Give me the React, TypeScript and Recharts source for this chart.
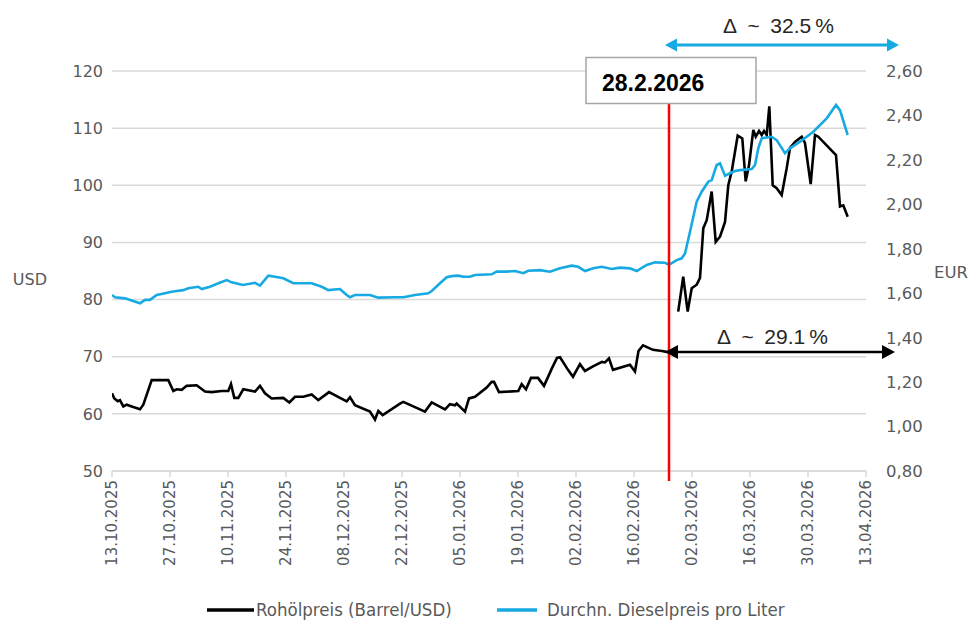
import React from 'react';
import { LineChart, Line, XAxis, YAxis, CartesianGrid, Legend } from 'recharts';

// X axis: days since 13.10.2025
const tickDays = [0, 14, 28, 42, 56, 70, 84, 98, 112, 126, 140, 154, 168, 182];
const tickLabels = [
  '13.10.2025', '27.10.2025', '10.11.2025', '24.11.2025', '08.12.2025', '22.12.2025', '05.01.2026',
  '19.01.2026', '02.02.2026', '16.02.2026', '02.03.2026', '16.03.2026', '30.03.2026', '13.04.2026',
];
const usdTicks = [50, 60, 70, 80, 90, 100, 110, 120];
const eurTicks = [0.8, 1.0, 1.2, 1.4, 1.6, 1.8, 2.0, 2.2, 2.4, 2.6];

const oilDays = [
  0, 0.56, 1.38, 1.93, 2.73, 3.55, 4.76, 6.76, 7.56, 9.58, 13.59, 14.8, 15.62, 16.82, 18.03, 20.44,
  22.45, 24.07, 26.48, 28.07, 28.72, 29.52, 30.49, 31.69, 34.52, 35.72, 36.93, 38.55, 41.35, 42.8,
  44.17, 46.18, 48.2, 49.8, 52.38, 56.65, 57.45, 58.65, 62.27, 63.48, 64.28, 65.34, 69.52, 70.31,
  75.55, 77.17, 80.38, 81.58, 82.79, 83.2, 85.21, 86.17, 87.62, 90.44, 91.65, 92.21, 93.41, 98.07,
  98.89, 99.93, 101.13, 102.83, 104.27, 106.21, 107.41, 108.14, 110.07, 111.27, 112.96, 114.17,
  116.1, 118.27, 119.0, 119.96, 120.93, 125.03, 126.24, 127.08, 128.17, 130.58, 132.75, 134.2,
  135.41, 136.67, 137.88, 138.96, 139.93, 141.13, 141.93, 142.73, 143.55, 144.75, 145.72, 146.76,
  147.97, 148.76, 149.58, 151.03, 152.14, 152.96, 153.76, 154.8, 155.38, 156.18, 156.83, 157.39,
  158.04, 158.66, 159.48, 160.44, 161.65, 162.86, 163.65, 164.86, 166.48, 167.27, 168.65, 169.69,
  170.48, 174.76, 175.72, 176.52, 177.58,
];
const oilUsd = [
  63.6, 62.7, 62.2, 62.4, 61.3, 61.6, 61.3, 60.8, 61.6, 65.9, 65.9, 64.0, 64.3, 64.2, 64.9, 65.0,
  63.9, 63.8, 64.0, 64.0, 65.2, 62.8, 62.8, 64.3, 63.9, 64.9, 63.6, 62.7, 62.8, 62.0,
  63.0, 63.0, 63.4, 62.4, 63.8, 62.2, 62.9, 61.5, 60.4, 59.0, 60.5, 59.8, 61.8, 62.1,
  60.4, 62.0, 60.8, 61.7, 61.5, 61.8, 60.4, 62.7, 63.0, 64.6, 65.6, 65.6, 63.8, 64.0,
  65.2, 64.3, 66.3, 66.3, 64.9, 68.0, 69.8, 69.9, 67.7, 66.5, 68.7, 67.5,
  68.3, 69.1, 69.0, 69.7, 67.7, 68.6, 67.4, 71.0, 72.0, 71.2, 71.0, 70.8,
  null, 77.9, 84.0, 77.9, 82.0, 82.6, 83.8, 92.5, 93.9, 98.9, 90.1, 91.0,
  93.6, 100.0, 102.4, 108.7, 108.2, 100.7, 103.5, 109.7, 108.5, 109.5, 108.8, 109.5,
  108.8, 113.8, 100.0, 99.5, 98.3, 103.0, 106.5, 107.6, 108.5, 107.4, 100.2, 108.8,
  108.5, 105.3, 96.3, 96.5, 94.5,
];

const dieselDays = [
  0, 0.72, 3.14, 6.76, 7.97, 9.17, 10.79, 12.79, 14.41, 15.62, 17.21, 18.42, 20.83, 21.65, 23.66,
  25.66, 27.69, 28.89, 31.62, 34.52, 35.72, 37.73, 39.34, 41.35, 43.76, 48.2, 50.62, 52.21, 55.03,
  56.65, 57.45, 58.65, 62.27, 64.28, 68.31, 70.31, 73.14, 76.35, 77.17, 79.17, 80.79, 81.99, 83.59,
  84.8, 86.41, 87.62, 91.65, 92.86, 94.86, 97.27, 99.28, 100.48, 103.31, 105.72, 108.14, 110.96,
  112.55, 114.17, 116.18, 118.2, 120.62, 122.62, 125.03, 126.65, 129.06, 131.07, 133.48, 134.45,
  136.31, 137.51, 138.31, 139.52, 141.13, 142.34, 143.93, 144.75, 145.96, 146.76, 147.97, 149.17,
  150.38, 151.59, 154.41, 155.21, 156.0, 156.82, 157.62, 159.24, 160.44, 162.45, 163.65, 166.07,
  169.28, 172.51, 174.76, 175.72, 177.58,
];
const dieselEur = [
  1.592, 1.582, 1.577, 1.555, 1.57, 1.57, 1.592, 1.6, 1.607, 1.61, 1.614, 1.622, 1.629, 1.619, 1.629,
  1.645, 1.659, 1.649, 1.637, 1.647, 1.634, 1.679, 1.674, 1.667, 1.645, 1.645, 1.629, 1.614, 1.619,
  1.592, 1.582, 1.592, 1.592, 1.58, 1.582, 1.582, 1.592, 1.6, 1.61, 1.645, 1.672, 1.677, 1.679,
  1.674, 1.674, 1.682, 1.685, 1.697, 1.697, 1.7, 1.69, 1.701, 1.704, 1.697, 1.712, 1.724,
  1.719, 1.7, 1.712, 1.719, 1.709, 1.715, 1.712, 1.7, 1.727, 1.739, 1.737, 1.728,
  1.749, 1.757, 1.779, 1.877, 2.012, 2.057, 2.102, 2.109, 2.177, 2.185, 2.129, 2.14,
  2.15, 2.154, 2.159, 2.177, 2.252, 2.297, 2.3, 2.304, 2.289, 2.23, 2.252, 2.282,
  2.327, 2.387, 2.447, 2.424, 2.312,
];

const oilName = 'Rohölpreis (Barrel/USD)';
const dieselName = 'Durchn. Dieselpreis pro Liter';
const markerDate = '28.2.2026';
const dieselDelta = 'Δ\u2002~\u200232.5\u2009%';
const oilDelta = 'Δ\u2002~\u200229.1\u2009%';

const oilData = oilDays.map((d, i) => ({ d, v: oilUsd[i] }));
const dieselData = dieselDays.map((d, i) => ({ d, v: dieselEur[i] }));

const BLUE = '#17A9E2';
const GREY_TXT = '#595959';
const FONT = '"DejaVu Sans", Arial, sans-serif';

const XTick = (props: any) => {
  const { x, y, payload } = props;
  const idx = tickDays.indexOf(payload.value);
  return (
    <g transform={`translate(${x},${y}) rotate(-90)`}>
      <text x={0} y={0} dy="0.35em" textAnchor="end" fill={GREY_TXT} fontSize={15} fontFamily={FONT}>
        {idx >= 0 ? tickLabels[idx] : ''}
      </text>
    </g>
  );
};

const LegendContent = () => (
  <div style={{ position: 'relative', width: 974, height: 26, fontFamily: '"DejaVu Sans Condensed", "DejaVu Sans", sans-serif', fontSize: 18.5, color: GREY_TXT }}>
    <svg style={{ position: 'absolute', left: 207, top: 10 }} width={47} height={6}>
      <line x1={0} y1={3} x2={47} y2={3} stroke="#000" strokeWidth={3.5} />
    </svg>
    <span style={{ position: 'absolute', left: 256, top: 0, whiteSpace: 'nowrap', lineHeight: '26px' }}>{oilName}</span>
    <svg style={{ position: 'absolute', left: 497, top: 10 }} width={40} height={6}>
      <line x1={0} y1={3} x2={40} y2={3} stroke={BLUE} strokeWidth={3.5} />
    </svg>
    <span style={{ position: 'absolute', left: 547, top: 0, whiteSpace: 'nowrap', lineHeight: '26px' }}>{dieselName}</span>
  </div>
);

const Arrow = ({ x1, x2, y, color, head, half, sw }: any) => (
  <g>
    <line x1={x1 + head - 1} y1={y} x2={x2 - head + 1} y2={y} stroke={color} strokeWidth={sw} />
    <polygon points={`${x1},${y} ${x1 + head},${y - half} ${x1 + head},${y + half}`} fill={color} />
    <polygon points={`${x2},${y} ${x2 - head},${y - half} ${x2 - head},${y + half}`} fill={color} />
  </g>
);

export default function App() {
  return (
    <div style={{ position: 'absolute', left: 0, top: 0, width: 974, height: 622, background: '#fff' }}>
      <LineChart width={974} height={622} margin={{ top: 71, right: 48, bottom: 61, left: 52 }}>
        <CartesianGrid yAxisId="usd" horizontal vertical={false} stroke="#d9d9d9" strokeWidth={1.5} />
        <XAxis
          dataKey="d"
          type="number"
          domain={[0, 182]}
          ticks={tickDays}
          interval={0}
          height={90}
          tick={<XTick />}
          tickSize={6}
          tickMargin={3}
          axisLine={{ stroke: '#d9d9d9', strokeWidth: 1.5 }}
          tickLine={{ stroke: '#d9d9d9', strokeWidth: 1.5 }}
          allowDataOverflow
        />
        <YAxis
          yAxisId="usd"
          orientation="left"
          width={60}
          domain={[50, 120]}
          ticks={usdTicks}
          interval={0}
          axisLine={false}
          tickLine={false}
          tickSize={0}
          tickMargin={9}
          tick={{ fill: GREY_TXT, fontSize: 16, fontFamily: FONT }}
          label={{ value: 'USD', position: 'left', offset: 5, dy: 8, fill: GREY_TXT, fontSize: 16, fontFamily: FONT }}
        />
        <YAxis
          yAxisId="eur"
          orientation="right"
          width={60}
          domain={[0.8, 2.6]}
          ticks={eurTicks}
          interval={0}
          axisLine={false}
          tickLine={false}
          tickSize={0}
          tickMargin={20}
          tickFormatter={(v: number) => v.toFixed(2).replace('.', ',')}
          tick={{ fill: GREY_TXT, fontSize: 16.5, fontFamily: FONT }}
          label={{ value: 'EUR', position: 'right', offset: 8, dy: 1, fill: GREY_TXT, fontSize: 16.5, fontFamily: FONT }}
        />
        <Line
          yAxisId="usd"
          data={oilData}
          dataKey="v"
          name={oilName}
          stroke="#000"
          strokeWidth={2.6}
          dot={false}
          activeDot={false}
          connectNulls={false}
          isAnimationActive={false}
          type="linear"
        />
        <Line
          yAxisId="eur"
          data={dieselData}
          dataKey="v"
          name={dieselName}
          stroke={BLUE}
          strokeWidth={2.6}
          dot={false}
          activeDot={false}
          isAnimationActive={false}
          type="linear"
        />
        <Legend
          layout="horizontal"
          verticalAlign="middle"
          align="center"
          content={<LegendContent />}
          wrapperStyle={{ position: 'absolute', top: 597, left: 0, width: 974, height: 26 }}
        />
      </LineChart>
      <svg style={{ position: 'absolute', left: 0, top: 0, pointerEvents: 'none' }} width={974} height={622}>
        <line x1={669} y1={104} x2={669} y2={481} stroke="#ff0000" strokeWidth={2.5} />
        <rect x={586} y={57.5} width={170} height={46} fill="#fff" stroke="#a6a6a6" strokeWidth={1.5} />
        <text x={602} y={90.5} fontSize={23} fontWeight="bold" fontFamily="'Liberation Sans', Arial, sans-serif" fill="#000">
          {markerDate}
        </text>
        <Arrow x1={665} x2={899} y={45} color={BLUE} head={12} half={6.5} sw={3} />
        <text x={723} y={33} fontSize={21} fontFamily="'Liberation Sans', Arial, sans-serif" fill="#262626">
          {dieselDelta}
        </text>
        <Arrow x1={665} x2={895} y={352} color="#000" head={13} half={7} sw={2.6} />
        <text x={717} y={344} fontSize={21} fontFamily="'Liberation Sans', Arial, sans-serif" fill="#262626">
          {oilDelta}
        </text>
      </svg>
    </div>
  );
}
